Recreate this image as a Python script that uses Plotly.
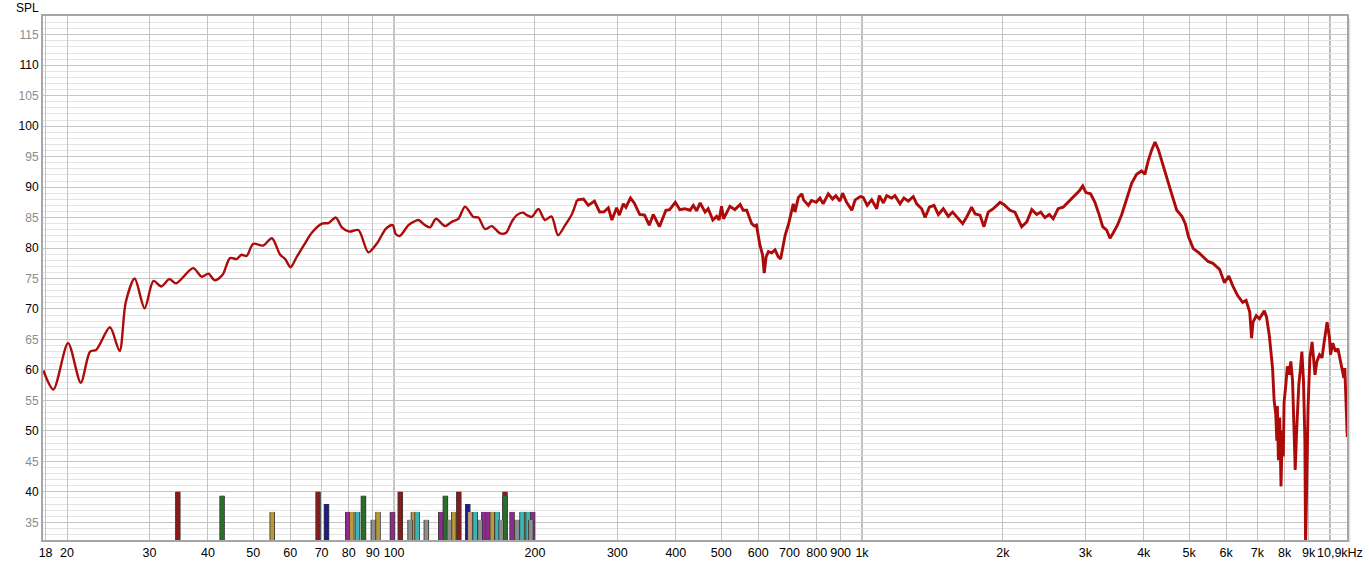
import math
import plotly.graph_objects as go

# ---- measured response (frequency in Hz, SPL in dB) ----
freq = [17.8, 18.7, 20.1, 21.4, 22.4, 23.1, 24.7, 25.9, 26.7, 27.9, 29.3, 30.6, 31.8, 33.1, 34.2,
        37.2, 38.8, 40.1, 41.4, 43.0, 44.6, 46.1, 47.2, 48.4, 50.0, 52.5, 54.8, 57.1, 58.5, 60.1,
        61.9, 64.2, 66.7, 70.1, 72.4, 75.1, 77.3, 80.3, 83.9, 88.1, 91.8, 96.1, 99.3, 100.8, 102.9,
        107.3, 110.0, 112.7, 116.5, 119.4, 122.9, 128.5, 132.8, 137.2, 141.8, 147.7, 151.4, 156.5,
        161.7, 168.5, 173.5, 178.4, 182.9, 188.9, 192.1, 196.9, 203.4, 210, 217, 224, 232, 240,
        246, 254, 260, 268, 275, 281, 287, 292, 299, 303, 309, 313, 320, 326, 335, 343, 351, 358,
        369, 381, 388, 399, 408, 418, 429, 436, 443, 451, 462, 469, 480, 489, 495, 501, 506, 522,
        535, 549, 557, 567, 581, 589, 595, 605, 613, 618, 624, 631, 641, 652, 662, 670, 685, 697,
        713, 719, 731, 737, 744, 750, 768, 780, 798, 813, 826, 847, 865, 879, 897, 909, 927, 951,
        967, 992, 1006, 1026, 1049, 1075, 1089, 1111, 1129, 1157, 1176, 1206, 1229, 1256, 1287,
        1309, 1341, 1364, 1393, 1425, 1456, 1492, 1529, 1562, 1605, 1641, 1674, 1715, 1745, 1787,
        1822, 1861, 1908, 1972, 2010, 2071, 2122, 2146, 2194, 2250, 2306, 2363, 2409, 2460, 2513,
        2562, 2625, 2690, 2774, 2852, 2914, 2963, 3010, 3080, 3146, 3214, 3268, 3333, 3388, 3444,
        3514, 3590, 3678, 3769, 3862, 3958, 4023, 4089, 4160, 4229, 4301, 4375, 4487, 4589, 4706,
        4827, 4908, 4984, 5104, 5250, 5490, 5620, 5810, 5950, 6080, 6200, 6350, 6510, 6620, 6740,
        6800, 6850, 6960, 7070, 7240, 7320, 7420, 7540, 7600, 7660, 7700, 7720, 7760, 7810, 7860,
        7910, 7950, 7980, 8050, 8110, 8180, 8250, 8320, 8390, 8430, 8490, 8580, 8640, 8710, 8780,
        8840, 8870, 8920, 8980, 9060, 9160, 9290, 9380, 9500, 9620, 9700, 9860, 9980, 10030, 10140,
        10280, 10400, 10540, 10630, 10710, 10760, 10840, 10890]
spl = [59.9, 56.8, 64.4, 57.9, 63.0, 63.3, 67.0, 63.1, 71.1, 75.0, 70.1, 74.6, 73.7, 74.9, 74.2,
       76.7, 75.3, 75.8, 74.7, 75.6, 78.35, 78.2, 78.9, 78.7, 80.7, 80.4, 81.6, 78.9, 78.2, 76.85,
       78.5, 80.5, 82.5, 84.0, 84.1, 85.0, 83.4, 82.7, 82.95, 79.3, 80.7, 83.2, 83.75, 82.3, 82.0,
       83.75, 84.3, 84.6, 83.75, 83.4, 84.8, 83.6, 84.3, 84.8, 86.8, 85.1, 85.0, 83.1,
       83.6, 82.4, 82.5, 84.3, 85.4, 85.8, 85.4, 85.1, 86.4, 84.6, 85.2, 82.1, 83.75, 85.6,
       87.9, 88.05, 87.0, 87.7, 85.9, 85.95, 86.6, 84.6, 86.6, 85.4, 87.25, 86.7, 88.2, 87.4, 85.5, 85.4, 83.75, 85.5,
       83.5, 86.2, 86.3, 87.5, 86.3, 86.45, 86.2, 87.0, 86.1, 87.4, 85.9, 86.45, 84.6, 85.2, 84.6, 86.85, 84.8, 86.85,
       86.3, 87.15, 86.2, 86.2, 84.0, 83.6, 83.75, 80.5, 78.9, 75.9, 78.6, 79.4, 79.2, 79.7, 78.6, 78.2, 82.1, 84.0,
       87.25, 85.9, 88.3, 88.6, 88.9, 87.9, 87.0, 87.8, 87.5, 88.2, 87.25, 88.9, 88.05, 88.6, 87.7, 89.0, 87.5, 86.2,
       87.9, 88.45, 88.3, 87.0, 87.9, 86.45, 88.6, 87.4, 88.6, 88.2, 88.6, 87.25, 88.2, 87.7, 88.45,
       87.25, 86.45, 85.0, 86.7, 87.0, 85.5, 86.45, 85.2, 85.9, 84.8, 84.0, 85.1, 86.7, 85.6, 85.4,
       83.5, 85.9, 86.45, 87.5, 87.15, 86.2, 85.9, 85.1, 83.5, 84.3, 86.3, 85.5, 85.9, 85.0, 85.5,
       84.8, 86.45, 86.7, 87.7, 88.6, 89.4, 90.2, 89.1, 88.9, 87.5, 85.4, 83.5, 82.95, 81.6, 82.5,
       83.75, 85.5, 88.05, 90.6, 92.1, 92.65, 92.1, 94.3, 96.1, 97.4, 96.1, 94.3, 91.6, 88.9, 86.2,
       85.2, 84.0, 81.9, 79.9, 79.2, 77.8, 77.5, 76.5, 74.3, 75.4, 73.8, 72.2, 71.1, 71.4, 69.5,
       65.2, 67.85, 68.9, 68.4, 69.7, 68.7, 65.7, 60.3, 54.9, 52.8, 48.4, 54.1, 45.2, 52.2, 40.9,
       50.1, 45.8, 54.7, 57.6, 60.6, 59.2, 61.4, 58.2, 50.1, 43.6, 50.1, 57.6, 59.8, 63.0, 58.2,
       48.4, 31.0, 43.1, 53.9, 62.0, 64.6, 59.2, 61.4, 62.5, 62.0, 64.1, 67.85, 65.2, 62.5, 64.4,
       63.0, 63.5, 61.4, 59.8, 58.7, 60.3, 53.9, 49.0]

# ---- room-mode style bars (frequency, level) grouped by colour ----
bars_darkred_f = [34.5, 68.8, 103.1, 137.5, 172.6]
bars_darkred_v = [40.0, 40.0, 40.0, 40.0, 40.0]
bars_green_f = [42.9, 86.0, 128.7, 172.6]
bars_green_v = [39.35, 39.35, 39.35, 39.35]
bars_navy_f = [71.7, 143.7]
bars_navy_v = [38.0, 38.0]
bars_purple_f = [79.6, 99.2, 125.8, 155.5, 158.8, 178.7, 197.7]
bars_purple_v = [36.7, 36.7, 36.7, 36.7, 36.7, 36.7, 36.7]
bars_olive_f = [54.9, 81.2, 92.4, 110.0, 134.1, 162.2, 191.0]
bars_olive_v = [36.7, 36.7, 36.7, 36.7, 36.7, 36.7, 36.7]
bars_tan_f = [145.3]
bars_tan_v = [36.7]
bars_teal_f = [83.5, 112.0, 149.0, 166.0, 187.7, 193.4]
bars_teal_v = [36.7, 36.7, 36.7, 36.7, 36.7, 36.7]
bars_gray_f = [90.3, 108.2, 117.2, 131.3, 152.7, 169.3, 183.1, 196.0]
bars_gray_v = [35.4, 35.4, 35.4, 35.4, 35.4, 35.4, 35.4, 35.4]

# ---- axis ticks ----
x_tickvals = [18, 20, 30, 40, 50, 60, 70, 80, 90, 100, 200, 300, 400, 500, 600, 700, 800, 900,
              1000, 2000, 3000, 4000, 5000, 6000, 7000, 8000, 9000]
x_ticktext = ["18", "20", "30", "40", "50", "60", "70", "80", "90", "100", "200", "300", "400",
              "500", "600", "700", "800", "900", "1k", "2k", "3k", "4k", "5k", "6k", "7k", "8k", "9k"]
x_end_label = "10,9kHz"
y_tickvals = [35, 40, 45, 50, 55, 60, 65, 70, 75, 80, 85, 90, 95, 100, 105, 110, 115]

X_MIN, X_MAX = 17.77, 10876
Y_MIN, Y_MAX = 32.1, 118.07
BAR_BASE = 30
SMOOTH_LIMIT = 240  # below this frequency the measured curve is smooth

fig = go.Figure()

bar_groups = [
    (bars_darkred_f, bars_darkred_v, "#8a1a1a"),
    (bars_green_f, bars_green_v, "#2b6e2b"),
    (bars_navy_f, bars_navy_v, "#1c1c8c"),
    (bars_purple_f, bars_purple_v, "#8e2b8e"),
    (bars_olive_f, bars_olive_v, "#b89a3a"),
    (bars_tan_f, bars_tan_v, "#c8a070"),
    (bars_teal_f, bars_teal_v, "#3cb4b4"),
    (bars_gray_f, bars_gray_v, "#8e8e8e"),
]
for fs, vs, col in bar_groups:
    xs, ys = [], []
    for f, v in zip(fs, vs):
        xs += [f, f, None]
        ys += [BAR_BASE, v, None]
    fig.add_trace(go.Scatter(x=xs, y=ys, mode="lines", line=dict(color="#3a3a3a", width=5.5),
                             hoverinfo="skip", showlegend=False))
    fig.add_trace(go.Scatter(x=xs, y=ys, mode="lines", line=dict(color=col, width=3.8),
                             hoverinfo="skip", showlegend=False))

split = next(i for i, f in enumerate(freq) if f > SMOOTH_LIMIT)
fig.add_trace(go.Scatter(x=freq[:split + 1], y=spl[:split + 1], mode="lines",
                         line=dict(color="#ad0a0a", width=2.4, shape="spline", smoothing=0.8),
                         showlegend=False))
fig.add_trace(go.Scatter(x=freq[split:], y=spl[split:], mode="lines",
                         line=dict(color="#ad0a0a", width=2.9), showlegend=False))

# darker decade lines
for dv in [100, 1000, 10000]:
    fig.add_shape(type="line", xref="x", yref="paper", x0=dv, x1=dv, y0=0, y1=1,
                  line=dict(color="#7a7a7a", width=1), layer="below")

# soft shadow along the frame (right side)
fig.add_shape(type="rect", xref="paper", yref="paper", x0=1.0, x1=1.0025, y0=-0.004, y1=0.995,
              line=dict(width=0), fillcolor="rgba(0,0,0,0.12)", layer="below")

y_ticktext = []
for v in y_tickvals:
    if v % 10 == 0:
        y_ticktext.append(str(v))
    else:
        y_ticktext.append("<span style='color:#8c8c8c'>%d</span>" % v)

minor_y = [v for v in range(33, 119) if v % 5 != 0]

fig.update_layout(
    width=1369, height=572,
    margin=dict(l=43, r=22, t=16, b=24),
    paper_bgcolor="white", plot_bgcolor="white",
    font=dict(family="Liberation Sans, Arial, sans-serif", size=12, color="#000"),
    xaxis=dict(type="log", range=[math.log10(X_MIN), math.log10(X_MAX)],
               tickmode="array", tickvals=x_tickvals, ticktext=x_ticktext,
               showgrid=True, gridcolor="#c4c4c4", gridwidth=1, zeroline=False,
               showline=True, linecolor="#a6a6a6", linewidth=2, mirror=True,
               ticks="", tickfont=dict(size=12.5, color="#000")),
    yaxis=dict(range=[Y_MIN, Y_MAX], tickmode="array", tickvals=y_tickvals, ticktext=y_ticktext,
               showgrid=True, gridcolor="#c4c4c4", gridwidth=1, zeroline=False,
               showline=True, linecolor="#a6a6a6", linewidth=2, mirror=True,
               ticks="", tickfont=dict(size=12, color="#000"),
               minor=dict(tickmode="array", tickvals=minor_y, showgrid=True,
                          gridcolor="#e4e4e4", gridwidth=1, ticks="")),
    annotations=[
        dict(text="SPL", xref="paper", yref="paper", x=0, y=1, xanchor="right", yanchor="bottom",
             xshift=-2, yshift=-1, showarrow=False, font=dict(size=12, color="#000")),
        dict(text=x_end_label, xref="paper", yref="paper", x=0.9946, y=0, xanchor="center",
             yanchor="top", yshift=-4, showarrow=False, font=dict(size=12.5, color="#000")),
    ],
)

fig.write_html("out.html", config={"displayModeBar": False},
               post_script="document.body.style.margin='0';document.body.style.overflow='hidden';")
